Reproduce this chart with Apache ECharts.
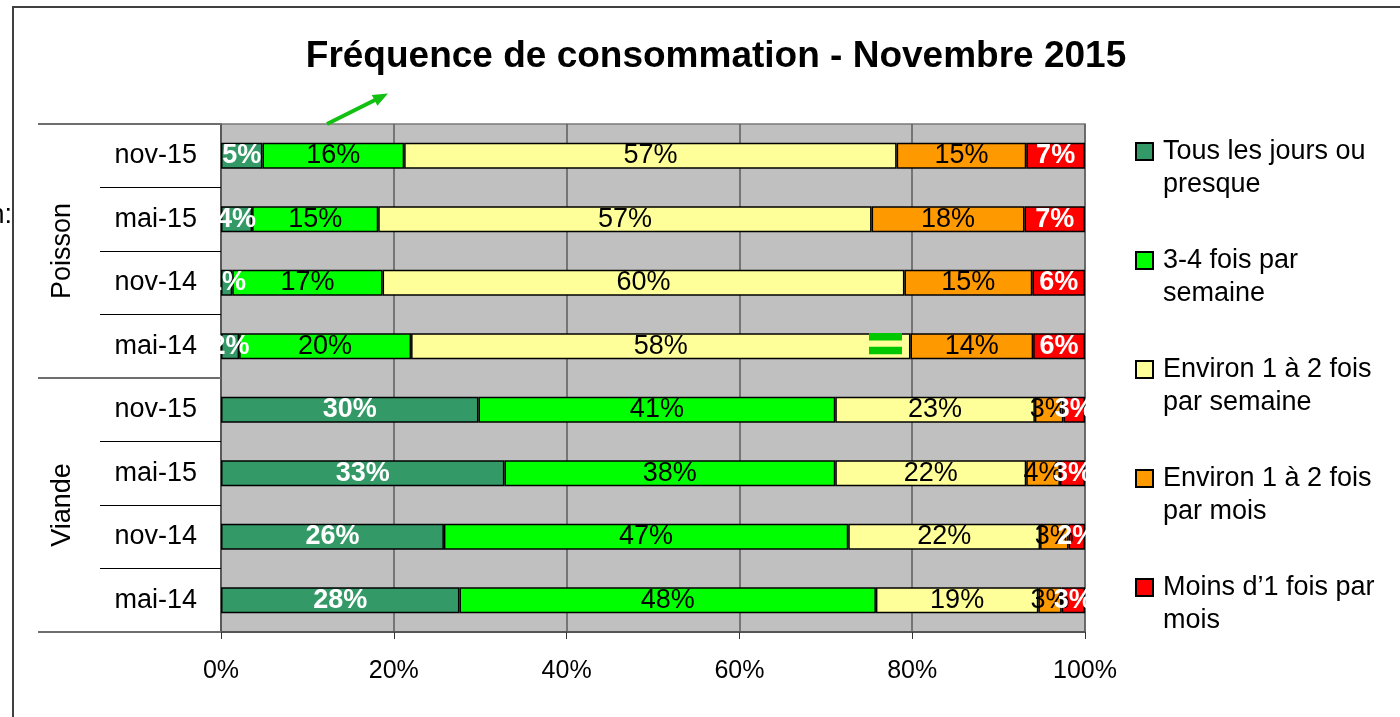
<!DOCTYPE html>
<html><head><meta charset="utf-8">
<script src="https://cdn.jsdelivr.net/npm/echarts@6/dist/echarts.min.js"></script>
<style>html,body{margin:0;padding:0;background:#fff}#c{width:1400px;height:717px}</style>
</head><body><div id="c"></div>
<script>
const groups = ['Poisson', 'Viande'];
const periods = ['nov-15', 'mai-15', 'nov-14', 'mai-14'];
const categories = ['Poisson|nov-15','Poisson|mai-15','Poisson|nov-14','Poisson|mai-14',
                    'Viande|nov-15','Viande|mai-15','Viande|nov-14','Viande|mai-14'];
const seriesNames = ['Tous les jours ou presque', '3-4 fois par semaine',
  'Environ 1 à 2 fois par semaine', 'Environ 1 à 2 fois par mois', 'Moins d’1 fois par mois'];
const legendLines = ['Tous les jours ou\npresque', '3-4 fois par\nsemaine',
  'Environ 1 à 2 fois\npar semaine', 'Environ 1 à 2 fois\npar mois', 'Moins d’1 fois par\nmois'];
const tousLesJours   = [4.8, 3.6, 1.3, 2.1, 29.8, 32.8, 25.8, 27.6];
const troisQuatre    = [16.4, 14.6, 17.4, 19.9, 41.3, 38.3, 46.8, 48.2];
const uneDeuxSemaine = [57.0, 57.1, 60.4, 57.8, 23.1, 22.1, 22.2, 18.8];
const uneDeuxMois    = [15.0, 17.7, 14.8, 14.2, 3.3, 3.9, 3.3, 2.7];
const moinsUnMois    = [6.8, 7.0, 6.1, 6.0, 2.5, 2.9, 1.9, 2.7];
const xTicks = [0, 20, 40, 60, 80, 100];

const FONT = "'Liberation Sans', Arial, sans-serif";
const colors = ['#339966', '#00FF00', '#FFFF99', '#FF9900', '#FF0000'];
const labelColors = ['#ffffff', '#000000', '#000000', '#000000', '#ffffff'];
const labelBold = ['bold', 'normal', 'normal', 'normal', 'bold'];
const values = [tousLesJours, troisQuatre, uneDeuxSemaine, uneDeuxMois, moinsUnMois];

const chart = echarts.init(document.getElementById('c'), null, {renderer: 'canvas'});

const series = values.map((arr, i) => ({
  name: seriesNames[i],
  type: 'bar',
  stack: 'total',
  yAxisIndex: 0,
  barWidth: 26,
  data: arr,
  itemStyle: {color: colors[i], borderColor: '#000', borderWidth: 1.5},
  label: {
    show: true, position: 'inside',
    formatter: p => Math.round(p.value) + '%',
    color: labelColors[i], fontWeight: labelBold[i], fontSize: 27, fontFamily: FONT
  },
  emphasis: {disabled: true},
  animation: false
}));

chart.setOption({
  animation: false,
  backgroundColor: '#ffffff',
  textStyle: {fontFamily: FONT},
  title: {
    text: 'Fréquence de consommation - Novembre 2015',
    left: 711, top: 33, textAlign: 'center',
    textStyle: {fontSize: 37, fontWeight: 'bold', color: '#000', fontFamily: FONT}
  },
  grid: {left: 221, right: 315, top: 124, bottom: 85, containLabel: false, outerBoundsMode: 'none',
    show: true, backgroundColor: '#C0C0C0', borderColor: '#7a7a7a', borderWidth: 1.5},
  legend: {
    orient: 'vertical', left: 1130, top: 97, itemWidth: 17, itemHeight: 17, itemGap: 10,
    icon: 'rect', data: seriesNames,
    formatter: name => '\n' + legendLines[seriesNames.indexOf(name)],
    textStyle: {fontSize: 27, lineHeight: 33, color: '#000', fontFamily: FONT, padding: [0, 0, 0, 5]}
  },
  xAxis: {
    type: 'value', min: xTicks[0], max: xTicks[xTicks.length - 1], interval: 20,
    axisLine: {show: true, lineStyle: {color: '#555', width: 2}},
    axisTick: {show: true, length: 7, lineStyle: {color: '#333', width: 1}},
    axisLabel: {formatter: '{value}%', fontSize: 25, color: '#000', margin: 27, fontFamily: FONT},
    splitLine: {show: true, lineStyle: {color: '#5c5c5c', width: 1.5}}
  },
  yAxis: [{
    type: 'category', data: categories, inverse: true, position: 'left',
    axisLine: {show: true, lineStyle: {color: '#555', width: 1.5}},
    axisTick: {show: true, length: 121, interval: 0, lineStyle: {color: '#000', width: 1}},
    axisLabel: {formatter: v => v.split('|')[1], fontSize: 27, color: '#000', margin: 24, fontFamily: FONT},
    splitLine: {show: false}
  }, {
    type: 'category', data: groups, inverse: true, position: 'left', offset: 0,
    axisLine: {show: false},
    axisTick: {show: true, length: 183, interval: 0, lineStyle: {color: '#6e6e6e', width: 2}},
    axisLabel: {rotate: 90, fontSize: 27, color: '#000', margin: 145, fontFamily: FONT},
    splitLine: {show: false}
  }],
  series: series,
  graphic: [
    {type: 'rect', shape: {x: 13, y: 7, width: 1500, height: 900}, style: {fill: 'none', stroke: '#404040', lineWidth: 2}, silent: true, z: 0},
    {type: 'text', x: 12, y: 216, style: {text: 'n:', font: "27px 'Liberation Sans', Arial, sans-serif", fill: '#000', align: 'right', verticalAlign: 'middle'}, silent: true},
    {type: 'line', shape: {x1: 327, y1: 124, x2: 378, y2: 98.5}, style: {stroke: '#11C011', lineWidth: 4}, silent: true, z: 10},
    {type: 'polygon', shape: {points: [[388, 93.5], [371.8, 95.1], [377.4, 105.7]]}, style: {fill: '#11C011'}, silent: true, z: 10},
    {type: 'rect', shape: {x: 869, y: 333, width: 33, height: 7.5}, style: {fill: '#00C800'}, silent: true, z: 10},
    {type: 'rect', shape: {x: 869, y: 346.8, width: 33, height: 7.5}, style: {fill: '#00C800'}, silent: true, z: 10}
  ]
});
</script>
</body></html>
